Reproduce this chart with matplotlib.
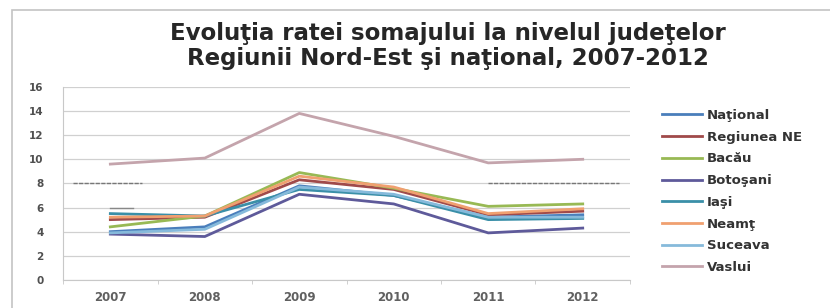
import matplotlib
matplotlib.use("Agg")
import matplotlib.pyplot as plt
from matplotlib.patches import Rectangle
import numpy as np

years = ["2007", "2008", "2009", "2010", "2011", "2012"]
series_names = ["Naţional", "Regiunea NE", "Bacău", "Botoşani", "Iaşi", "Neamţ", "Suceava", "Vaslui"]
national = [4.0, 4.4, 7.8, 7.0, 5.2, 5.4]
regiunea_ne = [5.0, 5.2, 8.3, 7.5, 5.4, 5.7]
bacau = [4.4, 5.3, 8.9, 7.6, 6.1, 6.3]
botosani = [3.8, 3.6, 7.1, 6.3, 3.9, 4.3]
iasi = [5.5, 5.3, 7.5, 7.0, 5.0, 5.1]
neamt = [5.2, 5.3, 8.6, 7.7, 5.5, 5.9]
suceava = [3.9, 4.2, 7.7, 7.1, 5.2, 5.2]
vaslui = [9.6, 10.1, 13.8, 11.9, 9.7, 10.0]
yticks = [0, 2, 4, 6, 8, 10, 12, 14, 16]

values = [national, regiunea_ne, bacau, botosani, iasi, neamt, suceava, vaslui]
colors = ["#4A7EBB", "#A04A4A", "#98B954", "#5E5A9A", "#3A8FA8", "#F0A070", "#86BADB", "#C4A4AC"]

fig = plt.figure(figsize=(8.3, 3.08), dpi=100)
fig.patches.append(Rectangle((0.0145, -0.1), 1.1, 1.1 - 10 / 308, transform=fig.transFigure,
                             fill=False, edgecolor="#C4C4C4", linewidth=1.2))

ax = fig.add_axes([0.076, 0.091, 0.683, 0.627])
x = list(range(len(years)))
for name, vals, c in zip(series_names, values, colors):
    ax.plot(x, vals, color=c, lw=2, label=name)

ax.set_xlim(-0.5, len(years) - 0.5)
ax.set_ylim(0, 16)
ax.set_yticks(yticks)
ax.set_yticklabels([str(t) for t in yticks], fontsize=7.5, fontweight="bold", color="#505050")
ax.set_xticks(x)
ax.set_xticklabels(years, fontsize=8.5, fontweight="bold", color="#606060")
ax.set_xticks(np.arange(-0.5, len(years), 1.0), minor=True)
ax.tick_params(axis="y", length=0, pad=14)
ax.tick_params(axis="x", which="major", length=0, pad=8)
ax.tick_params(axis="x", which="minor", length=3, color="#C8C8C8")
ax.grid(axis="y", color="#D0D0D0", lw=0.9)
ax.set_axisbelow(True)
for s in ["top", "right"]:
    ax.spines[s].set_visible(False)
ax.spines["left"].set_color("#C8C8C8")
ax.spines["bottom"].set_color("#C8C8C8")
ax.axhline(8, xmin=0.018, xmax=0.14, color="#777777", lw=1, ls=(0, (3, 1)))
ax.axhline(8, xmin=0.75, xmax=0.98, color="#777777", lw=1, ls=(0, (3, 1)))
ax.axhline(6, xmin=0.083, xmax=0.123, color="#888888", lw=1)

leg = fig.legend(loc="upper left", bbox_to_anchor=(662 / 830, 1 - 109 / 308),
                 bbox_transform=fig.transFigure, frameon=False, borderpad=0, borderaxespad=0,
                 handlelength=3.0, labelspacing=0.66, handletextpad=0.4,
                 prop={"family": "DejaVu Sans", "weight": "bold", "size": 9.5})
for t in leg.get_texts():
    t.set_color("#333333")

fig.text(0.54, 1 - 40 / 308, "Evoluţia ratei somajului la nivelul judeţelor",
         ha="center", va="baseline", fontsize=16.5, fontweight="bold", family="DejaVu Sans", color="#262626")
fig.text(0.54, 1 - 65 / 308, "Regiunii Nord-Est şi naţional, 2007-2012",
         ha="center", va="baseline", fontsize=16.5, fontweight="bold", family="DejaVu Sans", color="#262626")

fig.savefig("out.png", dpi=100)
